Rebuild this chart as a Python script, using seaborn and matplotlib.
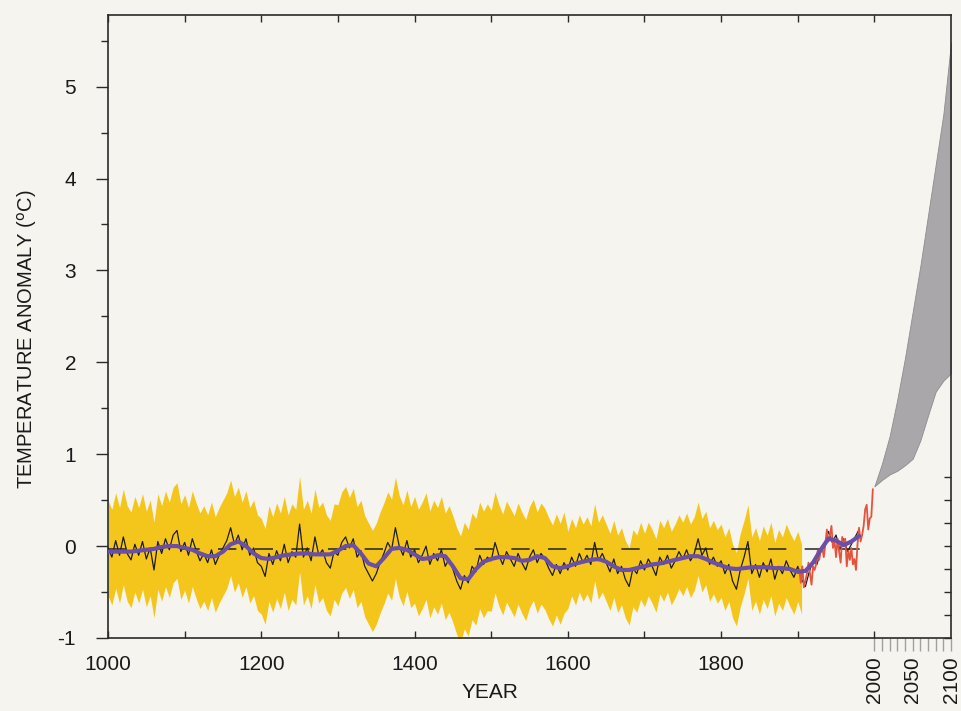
import numpy as np
import pandas as pd
import matplotlib
matplotlib.use("Agg")
import matplotlib.pyplot as plt
import seaborn as sns
from matplotlib.ticker import FixedLocator, NullFormatter

# ---------------- data ----------------
# proxy reconstruction, sampled every 5 years 1000-1980
recon_start, recon_step = 1000, 5
recon_values = [
    -0.02, -0.12, 0.06, -0.10, 0.10, -0.08, -0.15, 0.02, -0.10, 0.05,
    -0.14, -0.02, -0.26, 0.05, -0.08, 0.08, -0.04, 0.12, 0.17, -0.06,
    0.04, -0.10, 0.08, -0.05, -0.16, -0.08, -0.18, -0.04, -0.20, -0.10,
    -0.02, 0.06, 0.20, 0.02, 0.12, -0.04, 0.08, -0.10, -0.02, -0.18,
    -0.22, -0.33, -0.08, -0.20, -0.05, -0.16, 0.02, -0.18, -0.06, -0.12,
    0.24, -0.12, -0.02, -0.16, 0.10, -0.10, -0.04, -0.18, -0.24, -0.06,
    -0.10, 0.04, 0.10, -0.02, 0.08, -0.12, -0.05, -0.22, -0.30, -0.38,
    -0.30, -0.18, -0.08, 0.04, -0.04, 0.20, 0.00, -0.10, 0.06, -0.12,
    -0.04, -0.18, -0.10, 0.00, -0.20, -0.08, -0.16, -0.04, -0.22, -0.14,
    -0.25, -0.38, -0.47, -0.32, -0.40, -0.22, -0.28, -0.10, -0.20, -0.12,
    -0.16, 0.04, -0.10, -0.20, -0.06, -0.14, -0.22, -0.08, -0.18, -0.26,
    -0.12, -0.04, -0.18, -0.08, -0.14, -0.24, -0.32, -0.20, -0.30, -0.18,
    -0.26, -0.12, -0.22, -0.08, -0.18, -0.10, -0.20, 0.04, -0.16, -0.08,
    -0.18, -0.28, -0.14, -0.30, -0.22, -0.36, -0.44, -0.24, -0.30, -0.16,
    -0.26, -0.14, -0.22, -0.32, -0.12, -0.20, -0.10, -0.24, -0.16, -0.06,
    -0.14, -0.04, -0.16, -0.08, 0.08, -0.10, -0.02, -0.20, -0.12, -0.22,
    -0.16, -0.30, -0.20, -0.38, -0.47, -0.26, -0.12, 0.05, -0.30, -0.20,
    -0.34, -0.18, -0.28, -0.14, -0.36, -0.22, -0.30, -0.16, -0.26, -0.34,
    -0.22, -0.36, -0.44, -0.28, -0.16, -0.20, -0.06, 0.02, 0.16, 0.04,
    0.12, -0.04, 0.08, -0.06, 0.02, 0.10, 0.18,
]

# smoothed (low-pass) reconstruction, every 10 years 1000-1980
smooth_start, smooth_step = 1000, 10
smooth_values = [
    -0.06, -0.06, -0.06, -0.06, -0.05, -0.04, -0.03, -0.01, 0.00, 0.00,
    -0.02, -0.04, -0.08, -0.11, -0.11, -0.06, 0.02, 0.05, 0.00, -0.08,
    -0.13, -0.14, -0.12, -0.10, -0.09, -0.08, -0.08, -0.09, -0.09, -0.09,
    -0.05, 0.00, 0.01, -0.08, -0.19, -0.22, -0.13, -0.03, -0.02, -0.04,
    -0.09, -0.14, -0.13, -0.10, -0.11, -0.22, -0.35, -0.36, -0.25, -0.17,
    -0.14, -0.12, -0.12, -0.13, -0.16, -0.15, -0.11, -0.13, -0.22, -0.24,
    -0.22, -0.19, -0.17, -0.15, -0.14, -0.17, -0.22, -0.26, -0.26, -0.24,
    -0.22, -0.20, -0.19, -0.17, -0.15, -0.13, -0.11, -0.11, -0.14, -0.18,
    -0.21, -0.24, -0.25, -0.24, -0.23, -0.23, -0.23, -0.24, -0.24, -0.25,
    -0.28, -0.27, -0.18, -0.04, 0.08, 0.06, 0.01, 0.05, 0.11,
]

# instrumental record, every 2 years 1902-1998
instr_start, instr_step = 1902, 2
instr_values = [
    -0.25, -0.40, -0.22, -0.45, -0.38, -0.30, -0.18, -0.30, -0.42, -0.22,
    -0.26, -0.20, -0.05, -0.15, -0.05, -0.02, -0.12, 0.02, 0.18, 0.05,
    0.12, 0.22, -0.02, 0.06, -0.12, 0.08, -0.06, -0.18, 0.10, 0.02,
    0.08, -0.22, -0.05, -0.15, -0.02, -0.20, -0.14, -0.26, 0.02, 0.20,
    0.05, 0.12, 0.22, 0.40, 0.45, 0.18, 0.30, 0.32, 0.62,
]

# uncertainty half-width of the reconstruction, per century (band ends 1905)
err_century = [1000, 1100, 1200, 1300, 1400, 1500, 1600, 1700, 1800, 1900]
err_values = [0.52, 0.52, 0.52, 0.55, 0.58, 0.55, 0.42, 0.40, 0.40, 0.38]
band_end = 1905

# projected range 2000-2100
proj_years = [2000, 2010, 2020, 2030, 2040, 2050, 2060, 2070, 2080, 2090, 2100]
proj_upper = [0.65, 0.90, 1.20, 1.60, 2.05, 2.55, 3.05, 3.60, 4.15, 4.70, 5.48]
proj_lower = [0.65, 0.72, 0.78, 0.82, 0.88, 0.95, 1.15, 1.42, 1.68, 1.80, 1.88]

dash_level = -0.03
dash_span = [1000, 1995]

x_major = [1000, 1200, 1400, 1600, 1800]
x_minor = [1100, 1300, 1500, 1700, 1900, 2000]
x_future_ticks = list(range(2000, 2101, 10))
x_future_labels = {2000: "2000", 2050: "2050", 2100: "2100"}
y_major = [-1, 0, 1, 2, 3, 4, 5]
y_minor = [-0.5, 0.5, 1.5, 2.5, 3.5, 4.5, 5.5]
y_right = [-1, -0.75, -0.5, -0.25, 0, 0.25, 0.5, 0.75]

# ---------------- tables ----------------
recon = pd.DataFrame({
    "year": recon_start + recon_step * np.arange(len(recon_values)),
    "temp": recon_values,
})
smooth = pd.DataFrame({
    "year": smooth_start + smooth_step * np.arange(len(smooth_values)),
    "temp": smooth_values,
})
instr = pd.DataFrame({
    "year": instr_start + instr_step * np.arange(len(instr_values)),
    "temp": instr_values,
})
band = recon[recon["year"] <= band_end].copy()
err_lookup = dict(zip(err_century, err_values))
band["err"] = [err_lookup[(y // 100) * 100] for y in band["year"]]

# ---------------- style ----------------
sns.set_theme(style="ticks")
plt.rcParams["font.family"] = ["Liberation Sans", "DejaVu Sans"]
bg = "#f5f4ef"
ink = "#2a2a2a"

fig = plt.figure(figsize=(9.61, 7.11), dpi=100, facecolor=bg)
ax = fig.add_axes([0.1124, 0.1027, 0.8772, 0.8762], facecolor=bg)

# uncertainty band
ax.fill_between(band["year"], band["temp"] - band["err"], band["temp"] + band["err"],
                color="#f4c61c", lw=0, zorder=1)
# reference dashes
ax.hlines(dash_level, dash_span[0], dash_span[1], colors="#222222",
          linestyles=(0, (12, 12)), lw=1.1, zorder=2)
# reconstruction
sns.lineplot(data=recon, x="year", y="temp", ax=ax, color="#1c1c1c", lw=0.9,
             zorder=3, estimator=None)
# instrumental
sns.lineplot(data=instr, x="year", y="temp", ax=ax, color="#e5533d", lw=1.3,
             zorder=4, estimator=None)
# smoothed
sns.lineplot(data=smooth, x="year", y="temp", ax=ax, color="#6a4ea8", lw=3.0,
             zorder=5, estimator=None)
# projections
ax.fill_between(proj_years, proj_lower, proj_upper, color="#a9a7aa",
                edgecolor="#8e8c90", lw=0.6, zorder=2)

ax.set_xlim(1000, 2100)
ax.set_ylim(-1, 5.78)

for s in ax.spines.values():
    s.set_color(ink)
    s.set_linewidth(1.2)

ax.xaxis.set_major_locator(FixedLocator(x_major))
ax.xaxis.set_minor_locator(FixedLocator(x_minor))
ax.set_xticklabels([str(v) for v in x_major])
ax.xaxis.set_minor_formatter(NullFormatter())
ax.tick_params(axis="x", which="both", direction="in", length=5, width=1.0,
               color=ink, top=True, bottom=True, labelsize=15, pad=12,
               labelcolor="#1a1a1a")

ax.yaxis.set_major_locator(FixedLocator(y_major))
ax.yaxis.set_minor_locator(FixedLocator(y_minor))
ax.set_yticklabels([str(v) for v in y_major])
ax.yaxis.set_minor_formatter(NullFormatter())
ax.tick_params(axis="y", which="major", direction="out", length=9, width=1.0,
               color=ink, labelsize=15, pad=14, labelcolor="#1a1a1a")
ax.tick_params(axis="y", which="minor", direction="out", length=5, width=1.0,
               color=ink)
ax.tick_params(axis="y", which="both", right=False)

# right-hand inward ticks
sec_y = ax.secondary_yaxis("right")
sec_y.set_yticks(y_right)
sec_y.set_yticklabels([])
sec_y.tick_params(direction="in", length=5, width=1.0, color=ink)
sec_y.spines["right"].set_visible(False)

# future time scale
sec_x = ax.secondary_xaxis("bottom")
sec_x.set_xticks(x_future_ticks)
sec_x.set_xticklabels([x_future_labels.get(v, "") for v in x_future_ticks])
sec_x.tick_params(direction="out", length=9, width=1.0, color="#a0a0a0",
                  labelsize=15, labelrotation=90, pad=4, labelcolor="#1a1a1a")
sec_x.spines["bottom"].set_visible(False)

ax.set_xlabel("YEAR", fontsize=15, color="#1a1a1a")
ax.xaxis.set_label_coords(0.453, -0.072)
ax.set_ylabel("TEMPERATURE ANOMALY ($^{\\rm o}$C)", fontsize=14.5, color="#1a1a1a")
ax.yaxis.set_label_coords(-0.082, 0.48)

fig.savefig("out.png", dpi=100, facecolor=bg)
